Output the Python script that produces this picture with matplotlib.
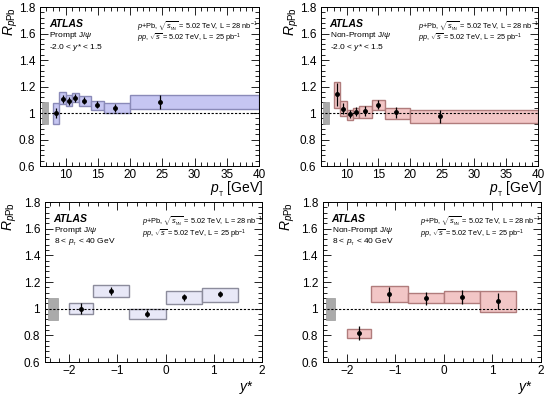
import matplotlib
matplotlib.use("Agg")
import matplotlib.pyplot as plt
from matplotlib.patches import Rectangle
from matplotlib.ticker import MultipleLocator
import numpy as np

plt.rcParams['font.family'] = ['Liberation Sans', 'DejaVu Sans']
plt.rcParams['mathtext.fontset'] = 'custom'
plt.rcParams['mathtext.rm'] = 'Liberation Sans'
plt.rcParams['mathtext.it'] = 'Liberation Sans:italic'
plt.rcParams['mathtext.bf'] = 'Liberation Sans:bold'

# ---- data: pT dependence ----
pt_lo = [8, 9, 10, 11, 12, 14, 16, 20]
pt_hi = [9, 10, 11, 12, 14, 16, 20, 40]
pt_c = [8.5, 9.5, 10.5, 11.5, 12.9, 14.9, 17.7, 24.7]

pr_pt_val = [1.00, 1.108, 1.093, 1.113, 1.093, 1.063, 1.038, 1.083]
pr_pt_stat = [0.04, 0.03, 0.03, 0.03, 0.025, 0.025, 0.03, 0.05]
pr_pt_sys_lo = [0.917, 1.07, 1.055, 1.08, 1.055, 1.023, 1.0, 1.03]
pr_pt_sys_hi = [1.075, 1.155, 1.138, 1.15, 1.125, 1.093, 1.073, 1.138]

np_pt_val = [1.141, 1.032, 0.99, 1.01, 1.015, 1.063, 1.005, 0.975]
np_pt_stat = [0.085, 0.04, 0.03, 0.035, 0.035, 0.035, 0.04, 0.05]
np_pt_sys_lo = [1.04, 0.975, 0.95, 0.965, 0.965, 1.025, 0.955, 0.925]
np_pt_sys_hi = [1.233, 1.088, 1.02, 1.04, 1.05, 1.10, 1.04, 1.025]

# ---- data: y* dependence ----
y_lo = [-2.0, -1.5, -0.75, 0.0, 0.75]
y_hi = [-1.5, -0.75, 0.0, 0.75, 1.5]
y_c = [-1.75, -1.125, -0.375, 0.375, 1.125]

pr_y_val = [1.0, 1.132, 0.963, 1.084, 1.109]
pr_y_stat = [0.04, 0.03, 0.025, 0.025, 0.025]
pr_y_sys_lo = [0.958, 1.085, 0.925, 1.035, 1.052]
pr_y_sys_hi = [1.045, 1.18, 1.0, 1.13, 1.157]

np_y_val = [0.818, 1.108, 1.078, 1.088, 1.055]
np_y_stat = [0.055, 0.055, 0.05, 0.05, 0.06]
np_y_sys_lo = [0.78, 1.05, 1.04, 1.04, 0.975]
np_y_sys_hi = [0.85, 1.168, 1.115, 1.135, 1.135]

# global normalisation uncertainty
norm_lo, norm_hi = 0.915, 1.08

fig = plt.figure(figsize=(5.5, 3.95), dpi=100)
ax1 = fig.add_axes([0.0727, 0.5797, 0.398, 0.4025])
ax2 = fig.add_axes([0.5836, 0.5797, 0.3945, 0.4025])
ax3 = fig.add_axes([0.0818, 0.0835, 0.3945, 0.405])
ax4 = fig.add_axes([0.587, 0.0835, 0.396, 0.405])


def style(ax, xlim, xmaj, xmin):
    ax.set_xlim(*xlim)
    ax.set_ylim(0.6, 1.8)
    ax.xaxis.set_major_locator(MultipleLocator(xmaj))
    ax.xaxis.set_minor_locator(MultipleLocator(xmin))
    ax.yaxis.set_major_locator(MultipleLocator(0.2))
    ax.yaxis.set_minor_locator(MultipleLocator(0.04))
    ax.tick_params(which='both', direction='in', top=True, right=True,
                   labelsize=8.5, width=0.6)
    ax.tick_params(which='major', length=6)
    ax.tick_params(which='minor', length=3)
    ax.tick_params(axis='x', pad=2)
    ax.yaxis.set_major_formatter(plt.FuncFormatter(lambda v, p: ('%g' % round(v, 2))))
    for s in ax.spines.values():
        s.set_linewidth(0.7)
    ax.axhline(1.0, color='black', ls=(0, (2, 1.5)), lw=0.8, zorder=3)


def boxes(ax, lo, hi, slo, shi, fc, ec):
    for a, b, c, d in zip(lo, hi, slo, shi):
        ax.add_patch(Rectangle((a, c), b - a, d - c, facecolor=fc,
                               edgecolor=ec, lw=1.0, zorder=2))


def points(ax, x, v, e):
    ax.errorbar(x, v, yerr=e, fmt='o', color='black', ms=2.5, elinewidth=0.9,
                capsize=0, zorder=4)


def texts(ax, label, rng):
    ax.text(0.04, 0.895, 'ATLAS', transform=ax.transAxes, fontsize=7.5,
            fontweight='bold', fontstyle='italic', va='center')
    ax.text(0.04, 0.822, label, transform=ax.transAxes, fontsize=6, va='center')
    ax.text(0.04, 0.745, rng, transform=ax.transAxes, fontsize=6, va='center')
    ax.text(0.445, 0.88, r'$p$+Pb, $\sqrt{s_{_\mathrm{NN}}}$ = 5.02 TeV, L = 28 nb$^{-1}$',
            transform=ax.transAxes, fontsize=5.3, va='center')
    ax.text(0.445, 0.80, r'$pp$, $\sqrt{s}$ = 5.02 TeV, L = 25 pb$^{-1}$',
            transform=ax.transAxes, fontsize=5.3, va='center')


blue_fc, blue_ec = '#c6c6f2', '#8a8ab8'
pale_fc, pale_ec = '#e8e8f7', '#8c8c9c'
red_fc, red_ec = '#f2c6c6', '#b07c7c'
gray_fc, gray_ec = '#aaaaaa', '#9a9a9a'

# top left
style(ax1, (6, 40), 5, 1)
ax1.add_patch(Rectangle((6.35, norm_lo), 0.85, norm_hi - norm_lo, facecolor=gray_fc,
                        edgecolor=gray_ec, lw=0.5, zorder=2))
boxes(ax1, pt_lo, pt_hi, pr_pt_sys_lo, pr_pt_sys_hi, blue_fc, blue_ec)
points(ax1, pt_c, pr_pt_val, pr_pt_stat)
texts(ax1, r'Prompt J/$\psi$', r'-2.0 < $y$* < 1.5')

# top right
style(ax2, (6, 40), 5, 1)
ax2.add_patch(Rectangle((6.35, norm_lo), 0.85, norm_hi - norm_lo, facecolor=gray_fc,
                        edgecolor=gray_ec, lw=0.5, zorder=2))
boxes(ax2, pt_lo, pt_hi, np_pt_sys_lo, np_pt_sys_hi, red_fc, red_ec)
points(ax2, pt_c, np_pt_val, np_pt_stat)
texts(ax2, r'Non-Prompt J/$\psi$', r'-2.0 < $y$* < 1.5')

# bottom left
style(ax3, (-2.5, 2), 1, 0.2)
ax3.add_patch(Rectangle((-2.44, norm_lo), 0.2, norm_hi - norm_lo, facecolor=gray_fc,
                        edgecolor=gray_ec, lw=0.5, zorder=2))
boxes(ax3, y_lo, y_hi, pr_y_sys_lo, pr_y_sys_hi, pale_fc, pale_ec)
points(ax3, y_c, pr_y_val, pr_y_stat)
texts(ax3, r'Prompt J/$\psi$', r'8 < $p_{_\mathrm{T}}$ < 40 GeV')

# bottom right
style(ax4, (-2.5, 2), 1, 0.2)
ax4.add_patch(Rectangle((-2.44, norm_lo), 0.2, norm_hi - norm_lo, facecolor=gray_fc,
                        edgecolor=gray_ec, lw=0.5, zorder=2))
boxes(ax4, y_lo, y_hi, np_y_sys_lo, np_y_sys_hi, red_fc, red_ec)
points(ax4, y_c, np_y_val, np_y_stat)
texts(ax4, r'Non-Prompt J/$\psi$', r'8 < $p_{_\mathrm{T}}$ < 40 GeV')

for ax in (ax1, ax2, ax3, ax4):
    ax.text(-0.135 if ax in (ax1, ax2) else -0.16, 1.0, r'$R_{p\mathrm{Pb}}$',
            transform=ax.transAxes, rotation=90, ha='center', va='top', fontsize=10)
for ax in (ax1, ax2):
    ax.text(1.02, -0.145, r'$p_{_\mathrm{T}}$ [GeV]', transform=ax.transAxes,
            ha='right', va='center', fontsize=10)
for ax in (ax3, ax4):
    ax.text(0.965, -0.16, r'$y$*', transform=ax.transAxes,
            ha='right', va='center', fontsize=10)

fig.savefig('out.png', dpi=100)
